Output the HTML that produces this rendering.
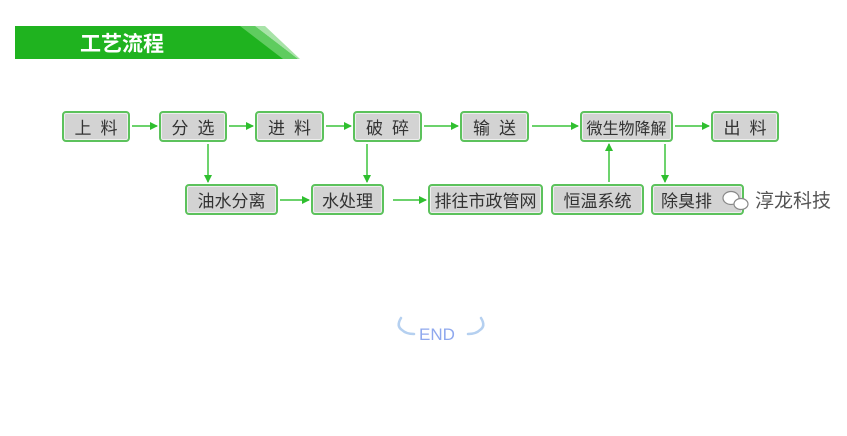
<!DOCTYPE html>
<html><head><meta charset="utf-8"><style>
body{margin:0;width:847px;height:436px;background:#fff;position:relative;overflow:hidden;font-family:"Liberation Sans","Noto Sans CJK SC",sans-serif}
.b{position:absolute;box-sizing:border-box;background:#d3d3d3;border:2px solid #5cc25c;border-radius:4px;box-shadow:inset 0 0 0 1px #eee;color:#333;font-size:17px;display:flex;align-items:center;justify-content:center;height:31px}
.s{letter-spacing:9px;padding-left:9px}
svg{position:absolute;left:0;top:0}
</style></head><body>
<svg width="847" height="436">
<polygon points="15,26 255,26 298,59 15,59" fill="#1fb31f"/>
<polygon points="240,26 255,26 298,59 283,59" fill="#5fcc5f"/>
<polygon points="255,26 265,26 300,59 298,59" fill="#a8e3a8"/>
<text x="80" y="51" font-size="21" font-weight="bold" fill="#fff" font-family="Noto Sans CJK SC, sans-serif">工艺流程</text>
<defs><marker id="a" markerWidth="8" markerHeight="8" refX="7" refY="4" orient="auto" markerUnits="userSpaceOnUse"><path d="M0,0L8,4L0,8z" fill="#2fbf2f"/></marker></defs>
<g stroke="#3cc43c" stroke-width="1.5" marker-end="url(#a)">
<line x1="132" y1="126" x2="157" y2="126"/>
<line x1="229" y1="126" x2="253" y2="126"/>
<line x1="326" y1="126" x2="351" y2="126"/>
<line x1="424" y1="126" x2="458" y2="126"/>
<line x1="532" y1="126" x2="578" y2="126"/>
<line x1="675" y1="126" x2="709" y2="126"/>
<line x1="208" y1="144" x2="208" y2="182"/>
<line x1="367" y1="144" x2="367" y2="182"/>
<line x1="609" y1="182" x2="609" y2="144"/>
<line x1="665" y1="144" x2="665" y2="182"/>
<line x1="280" y1="200" x2="309" y2="200"/>
<line x1="393" y1="200" x2="426" y2="200"/>
</g>
<g fill="none" stroke="#b5d0f0" stroke-width="2.5" stroke-linecap="round">
<path d="M401,318 Q396,326 402,330 Q406,334 414,334"/>
<path d="M481,318 Q486,326 480,330 Q476,334 468,334"/>
</g>
<text x="419" y="340" font-size="17" fill="#8fa8ee">END</text>
</svg>
<div class="b s" style="left:62px;top:111px;width:68px">上料</div>
<div class="b s" style="left:159px;top:111px;width:68px">分选</div>
<div class="b s" style="left:255px;top:111px;width:69px">进料</div>
<div class="b s" style="left:353px;top:111px;width:69px">破碎</div>
<div class="b s" style="left:460px;top:111px;width:69px">输送</div>
<div class="b" style="left:580px;top:111px;width:93px;font-size:16px">微生物降解</div>
<div class="b s" style="left:711px;top:111px;width:68px">出料</div>
<div class="b" style="left:185px;top:184px;width:93px">油水分离</div>
<div class="b" style="left:311px;top:184px;width:73px">水处理</div>
<div class="b" style="left:428px;top:184px;width:115px">排往市政管网</div>
<div class="b" style="left:551px;top:184px;width:93px">恒温系统</div>
<div class="b" style="left:651px;top:184px;width:93px;justify-content:flex-start;padding-left:8px">除臭排</div>
<svg width="847" height="436"><g fill="#fff" stroke="#888" stroke-width="1.2"><ellipse cx="731" cy="198" rx="8" ry="6.5"/><ellipse cx="741" cy="204" rx="7" ry="5.5"/></g>
<text x="755" y="207" font-size="19" fill="#555" font-family="Noto Sans CJK SC, sans-serif">淳龙科技</text></svg>
</body></html>
